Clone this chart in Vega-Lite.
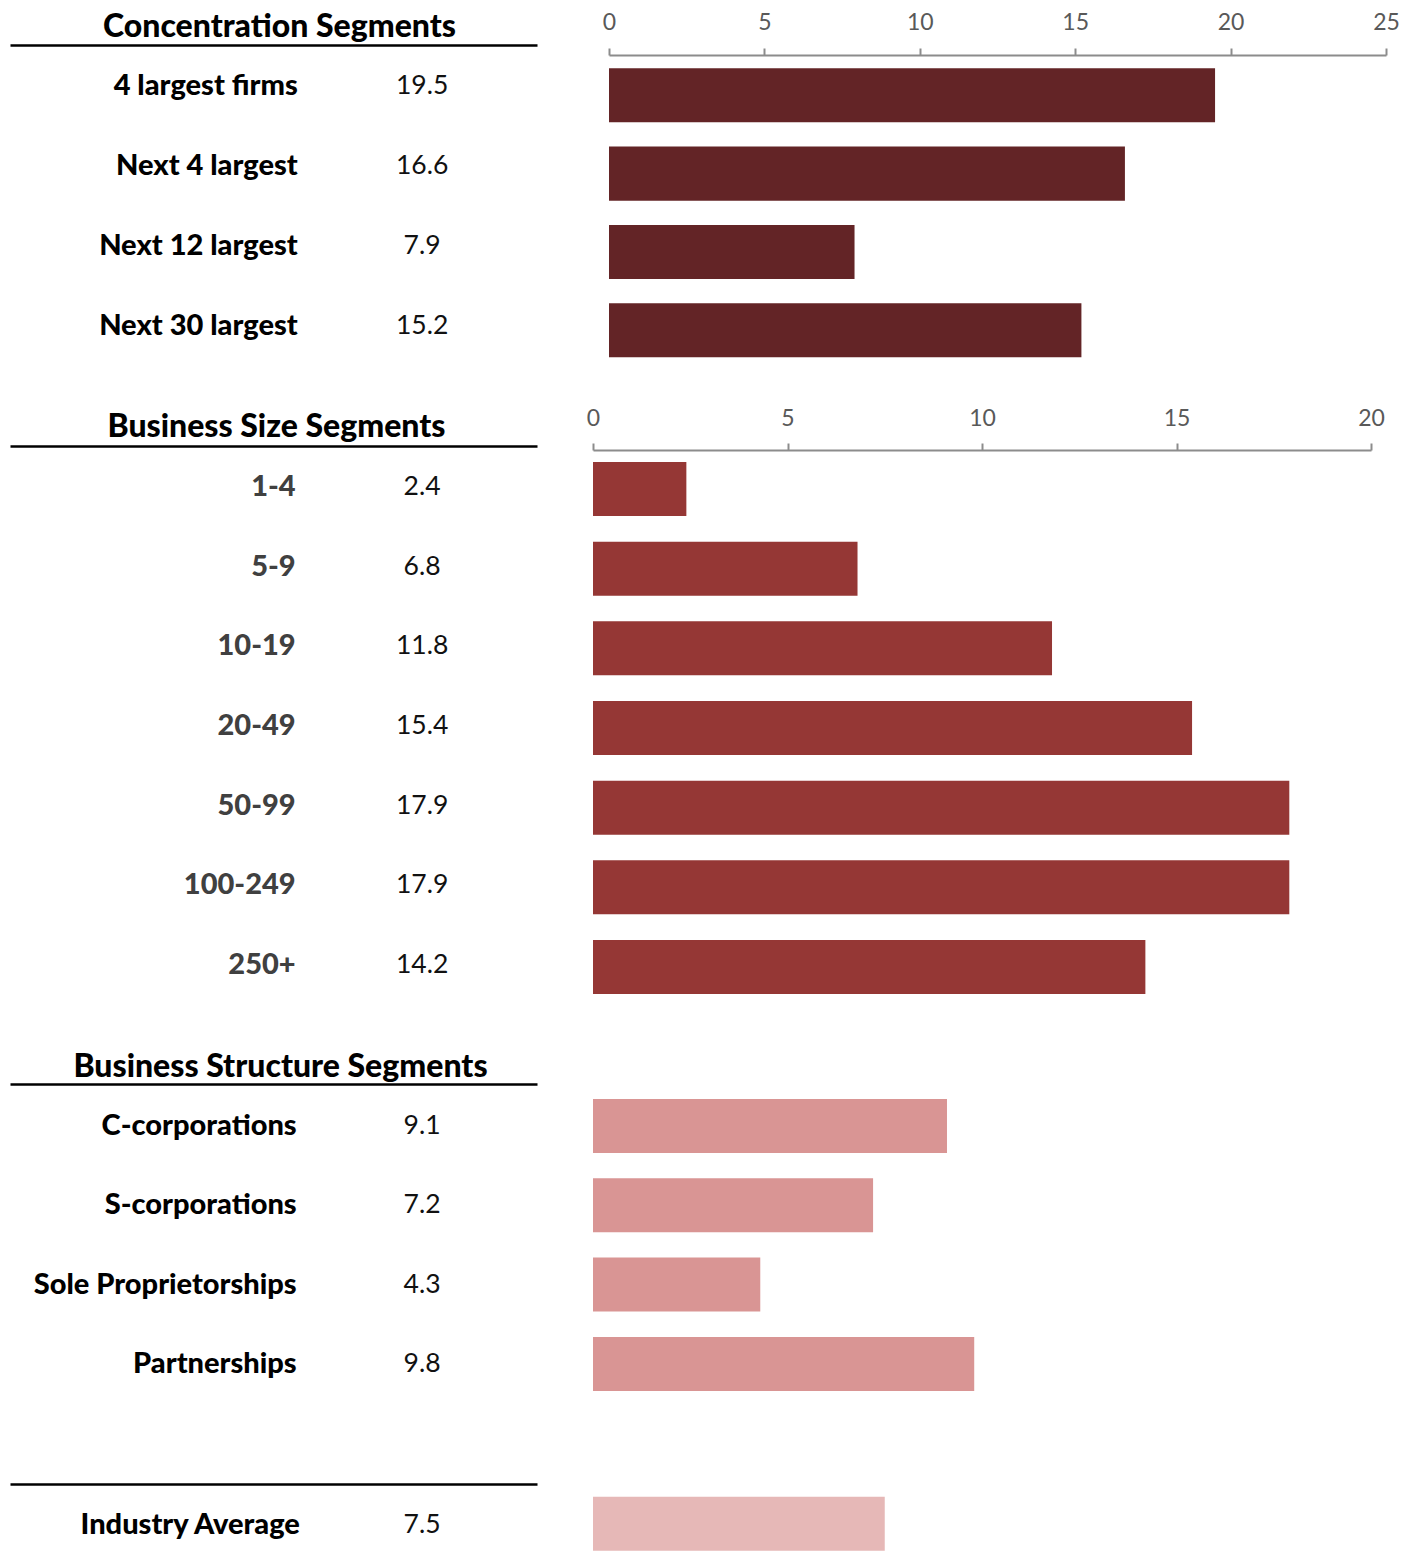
{
  "$schema": "https://vega.github.io/schema/vega-lite/v6.json",
  "autosize": {"type": "pad"},
  "padding": {"left": 10, "top": 10, "right": 0, "bottom": 0},
  "background": "white",
  "config": {
    "view": {"stroke": null},
    "font": "Lato",
    "axis": {"labelFont": "Lato", "titleFont": "Lato"}
  },
  "datasets": {
    "conc": [
      {"segment": "4 largest firms", "value": 19.5},
      {"segment": "Next 4 largest", "value": 16.6},
      {"segment": "Next 12 largest", "value": 7.9},
      {"segment": "Next 30 largest", "value": 15.2}
    ],
    "size": [
      {"segment": "1-4", "value": 2.4},
      {"segment": "5-9", "value": 6.8},
      {"segment": "10-19", "value": 11.8},
      {"segment": "20-49", "value": 15.4},
      {"segment": "50-99", "value": 17.9},
      {"segment": "100-249", "value": 17.9},
      {"segment": "250+", "value": 14.2}
    ],
    "struct": [
      {"segment": "C-corporations", "value": 9.1},
      {"segment": "S-corporations", "value": 7.2},
      {"segment": "Sole Proprietorships", "value": 4.3},
      {"segment": "Partnerships", "value": 9.8}
    ],
    "avg": [
      {"segment": "Industry Average", "value": 7.5}
    ]
  },
  "columns": 2,
  "align": "each",
  "bounds": "flush",
  "spacing": {"row": 30, "column": 56},
  "concat": [
    {
      "width": 527, "height": 365,
      "data": {"name": "conc"},
      "encoding": {"y": {"field": "segment", "type": "nominal", "sort": null, "axis": null, "scale": {"type": "band", "paddingInner": 0.31, "paddingOuter": 0.43625, "align": 0.053, "round": false}}},
      "layer": [
        {"mark": {"type": "text", "align": "right", "baseline": "middle", "font": "Lato", "fontWeight": 900, "fontSize": 29, "color": "#000000"},
         "encoding": {"x": {"datum": 54.6, "type": "quantitative", "scale": {"domain": [0, 100], "nice": false}, "axis": {"orient": "top", "labels": false, "ticks": false, "grid": false, "domain": true, "domainColor": "#000000", "domainWidth": 2.5, "offset": 10, "title": "Concentration Segments", "titleX": 269, "titleFontSize": 32, "titleFontWeight": 900, "titleColor": "#000000", "titlePadding": 2}},
          "text": {"field": "segment"}}},
        {"mark": {"type": "text", "align": "center", "baseline": "middle", "font": "Lato", "fontWeight": "normal", "fontSize": 26.5, "color": "#111111"},
         "encoding": {"x": {"datum": 78.2, "type": "quantitative", "axis": {"orient": "top", "labels": false, "ticks": false, "grid": false, "domain": true, "domainColor": "#000000", "domainWidth": 2.5, "offset": 10, "title": "Concentration Segments", "titleX": 269, "titleFontSize": 32, "titleFontWeight": 900, "titleColor": "#000000", "titlePadding": 2}},
          "text": {"field": "value", "type": "quantitative", "format": ".1f"}}}
      ]
    },
    {
      "width": 793, "height": 365,
      "data": {"name": "conc"},
      "mark": {"type": "bar", "color": "#632426"},
      "encoding": {
        "y": {"field": "segment", "type": "nominal", "sort": null, "axis": null, "scale": {"paddingInner": 0.31, "paddingOuter": 0.4858, "align": 0.175, "round": false}},
        "x": {"field": "value", "type": "quantitative", "scale": {"domain": [0, 25], "range": [16, 793], "nice": false, "zero": true},
          "axis": {"orient": "top", "values": [0, 5, 10, 15, 20, 25], "grid": false, "domainColor": "#8C8C8C", "domainWidth": 2, "tickColor": "#8C8C8C", "tickWidth": 2, "tickSize": 7, "labelFontSize": 23, "labelColor": "#595959", "labelPadding": 14, "labelFlush": false, "labelOverlap": false, "title": null}}
      }
    },
    {
      "width": 527, "height": 608,
      "data": {"name": "size"},
      "encoding": {"y": {"field": "segment", "type": "nominal", "sort": null, "axis": null, "scale": {"type": "band", "paddingInner": 0.3222, "paddingOuter": 0.4769, "align": 0.158, "round": false}}},
      "layer": [
        {"mark": {"type": "text", "align": "right", "baseline": "middle", "dy": -2, "font": "Lato", "fontWeight": 900, "fontSize": 29, "color": "#404040"},
         "encoding": {"x": {"datum": 54.2, "type": "quantitative", "scale": {"domain": [0, 100], "nice": false}, "axis": {"orient": "top", "labels": false, "ticks": false, "grid": false, "domain": true, "domainColor": "#000000", "domainWidth": 2.5, "offset": 4, "title": "Business Size Segments", "titleX": 266, "titleFontSize": 32, "titleFontWeight": 900, "titleColor": "#000000", "titlePadding": 3}},
          "text": {"field": "segment"}}},
        {"mark": {"type": "text", "align": "center", "baseline": "middle", "dy": -2, "font": "Lato", "fontWeight": "normal", "fontSize": 26.5, "color": "#111111"},
         "encoding": {"x": {"datum": 78.2, "type": "quantitative", "axis": {"orient": "top", "labels": false, "ticks": false, "grid": false, "domain": true, "domainColor": "#000000", "domainWidth": 2.5, "offset": 4, "title": "Business Size Segments", "titleX": 266, "titleFontSize": 32, "titleFontWeight": 900, "titleColor": "#000000", "titlePadding": 3}},
          "text": {"field": "value", "type": "quantitative", "format": ".1f"}}}
      ]
    },
    {
      "width": 793, "height": 608,
      "data": {"name": "size"},
      "mark": {"type": "bar", "color": "#953735"},
      "encoding": {
        "y": {"field": "segment", "type": "nominal", "sort": null, "axis": null, "scale": {"paddingInner": 0.3222, "paddingOuter": 0.4769, "align": 0.158, "round": false}},
        "x": {"field": "value", "type": "quantitative", "scale": {"domain": [0, 20], "range": [0, 778], "nice": false, "zero": true},
          "axis": {"orient": "top", "values": [0, 5, 10, 15, 20], "grid": false, "domainColor": "#8C8C8C", "domainWidth": 2, "tickColor": "#8C8C8C", "tickWidth": 2, "tickSize": 7, "labelFontSize": 23, "labelColor": "#595959", "labelPadding": 13, "labelFlush": false, "labelOverlap": false, "title": null}}
      }
    },
    {
      "width": 527, "height": 368,
      "data": {"name": "struct"},
      "encoding": {"y": {"field": "segment", "type": "nominal", "sort": null, "axis": null, "scale": {"type": "band", "paddingInner": 0.319, "paddingOuter": 0.4798, "align": 0.1445, "round": false}}},
      "layer": [
        {"mark": {"type": "text", "align": "right", "baseline": "middle", "font": "Lato", "fontWeight": 900, "fontSize": 29, "color": "#000000"},
         "encoding": {"x": {"datum": 54.4, "type": "quantitative", "scale": {"domain": [0, 100], "nice": false}, "axis": {"orient": "top", "labels": false, "ticks": false, "grid": false, "domain": true, "domainColor": "#000000", "domainWidth": 2.5, "offset": 4, "title": "Business Structure Segments", "titleX": 270, "titleFontSize": 32, "titleFontWeight": 900, "titleColor": "#000000", "titlePadding": 1}},
          "text": {"field": "segment"}}},
        {"mark": {"type": "text", "align": "center", "baseline": "middle", "font": "Lato", "fontWeight": "normal", "fontSize": 26.5, "color": "#111111"},
         "encoding": {"x": {"datum": 78.2, "type": "quantitative", "axis": {"orient": "top", "labels": false, "ticks": false, "grid": false, "domain": true, "domainColor": "#000000", "domainWidth": 2.5, "offset": 4, "title": "Business Structure Segments", "titleX": 270, "titleFontSize": 32, "titleFontWeight": 900, "titleColor": "#000000", "titlePadding": 1}},
          "text": {"field": "value", "type": "quantitative", "format": ".1f"}}}
      ]
    },
    {
      "width": 793, "height": 368,
      "data": {"name": "struct"},
      "mark": {"type": "bar", "color": "#D99594"},
      "encoding": {
        "y": {"field": "segment", "type": "nominal", "sort": null, "axis": null, "scale": {"paddingInner": 0.319, "paddingOuter": 0.4798, "align": 0.1445, "round": false}},
        "x": {"field": "value", "type": "quantitative", "scale": {"domain": [0, 20], "range": [0, 778], "nice": false, "zero": true}, "axis": null}
      }
    },
    {
      "width": 527, "height": 68,
      "data": {"name": "avg"},
      "encoding": {"y": {"field": "segment", "type": "nominal", "sort": null, "axis": null, "scale": {"type": "band", "paddingInner": 0.2059, "paddingOuter": 0.103, "align": 0.764, "round": false}}},
      "layer": [
        {"mark": {"type": "text", "align": "right", "baseline": "middle", "dy": 1, "font": "Lato", "fontWeight": 900, "fontSize": 29, "color": "#000000"},
         "encoding": {"x": {"datum": 55.0, "type": "quantitative", "scale": {"domain": [0, 100], "nice": false}, "axis": {"orient": "top", "labels": false, "ticks": false, "grid": false, "domain": true, "domainColor": "#000000", "domainWidth": 2.5, "offset": 2, "title": null}},
          "text": {"field": "segment"}}},
        {"mark": {"type": "text", "align": "center", "baseline": "middle", "dy": 1, "font": "Lato", "fontWeight": "normal", "fontSize": 26.5, "color": "#111111"},
         "encoding": {"x": {"datum": 78.2, "type": "quantitative", "axis": {"orient": "top", "labels": false, "ticks": false, "grid": false, "domain": true, "domainColor": "#000000", "domainWidth": 2.5, "offset": 2, "title": null}},
          "text": {"field": "value", "type": "quantitative", "format": ".1f"}}}
      ]
    },
    {
      "width": 793, "height": 68,
      "data": {"name": "avg"},
      "mark": {"type": "bar", "color": "#E6B8B7"},
      "encoding": {
        "y": {"field": "segment", "type": "nominal", "sort": null, "axis": null, "scale": {"paddingInner": 0.2059, "paddingOuter": 0.103, "align": 0.764, "round": false}},
        "x": {"field": "value", "type": "quantitative", "scale": {"domain": [0, 20], "range": [0, 778], "nice": false, "zero": true}, "axis": null}
      }
    }
  ]
}
